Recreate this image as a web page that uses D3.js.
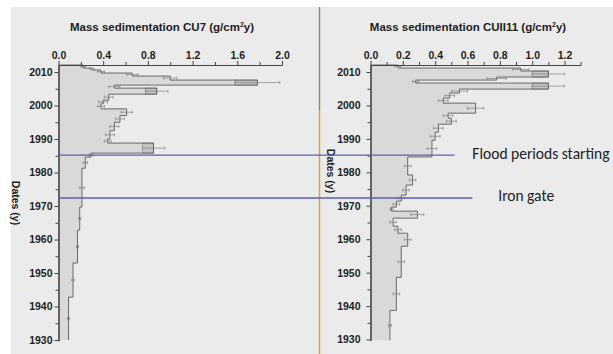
<!DOCTYPE html>
<html><head><meta charset="utf-8">
<script src="https://cdn.jsdelivr.net/npm/d3@7"></script>
<style>body{margin:0;background:#fff}svg{display:block}
.b{font-family:"Liberation Sans",Arial,sans-serif;font-weight:700;fill:#1e1e1e}
</style>
</head><body>
<script>
// ---- data ----
const yearsCU7 = [2012.1, 2011.2, 2010.6, 2009.7, 2008.8, 2007.6, 2006.1, 2005.2, 2003.4, 2001.6, 2000.5, 1999.0, 1997.0, 1995.0, 1992.5, 1990.0, 1988.8, 1985.8, 1984.6, 1981.3, 1969.7, 1962.8, 1953.0, 1942.8, 1930.0];
const massCU7 = [0.22, 0.30, 0.38, 0.66, 1.00, 1.78, 0.50, 0.88, 0.45, 0.40, 0.38, 0.61, 0.55, 0.50, 0.46, 0.44, 0.85, 0.29, 0.24, 0.21, 0.19, 0.17, 0.13, 0.09];
const errCU7 = [0.02, 0.02, 0.03, 0.05, 0.06, 0.20, 0.05, 0.10, 0.04, 0.04, 0.03, 0.05, 0.04, 0.04, 0.04, 0.03, 0.10, 0.02, 0.02, 0.02, 0.01, 0.01, 0.01, 0.01];

const yearsCUII11 = [2012.1, 2011.2, 2010.3, 2008.5, 2007.6, 2006.7, 2004.9, 2003.7, 2002.2, 2000.7, 1997.7, 1996.2, 1994.4, 1992.0, 1989.6, 1984.6, 1979.2, 1976.2, 1973.2, 1971.4, 1969.6, 1968.4, 1966.3, 1963.9, 1961.8, 1957.9, 1948.6, 1938.7, 1929.8];
const massCUII11 = [0.17, 0.93, 1.10, 0.78, 0.28, 1.10, 0.55, 0.49, 0.45, 0.65, 0.48, 0.50, 0.42, 0.40, 0.38, 0.23, 0.26, 0.22, 0.19, 0.16, 0.13, 0.29, 0.14, 0.17, 0.23, 0.19, 0.16, 0.12];
const errCUII11 = [0.02, 0.05, 0.10, 0.06, 0.02, 0.10, 0.05, 0.03, 0.03, 0.05, 0.03, 0.03, 0.03, 0.03, 0.03, 0.02, 0.02, 0.02, 0.02, 0.02, 0.01, 0.04, 0.02, 0.02, 0.02, 0.02, 0.02, 0.01];

const ticksCU7 = [0, 0.4, 0.8, 1.2, 1.6, 2.0];
const minorCU7 = [0.2, 0.6, 1.0, 1.4, 1.8];
const ticksCUII11 = [0, 0.2, 0.4, 0.6, 0.8, 1.0, 1.2];
const minorCUII11 = [0.1, 0.3, 0.5, 0.7, 0.9, 1.1, 1.3];
const yearTicks = [1930, 1940, 1950, 1960, 1970, 1980, 1990, 2000, 2010];
const yearMinor = [1935, 1945, 1955, 1965, 1975, 1985, 1995, 2005];

const events = [
  {label: "Flood periods starting", year: 1985.2, endVal: 0.52, textVal: 0.63},
  {label: "Iron gate", year: 1972.4, endVal: 0.63, textVal: 0.79}
];

// ---- drawing ----
const W = 613, H = 354;
const svg = d3.select("body").append("svg").attr("width", W).attr("height", H);
svg.append("rect").attr("width", W).attr("height", H).attr("fill", "#ffffff");
svg.append("rect").attr("x", 11).attr("y", 7).attr("width", W - 11).attr("height", H - 7).attr("fill", "#ebebeb");

const panels = [
  {title: "Mass sedimentation CU7 (g/cm", years: yearsCU7, vals: massCU7, errs: errCU7,
   xd: [0, 2.0], xr: [58.5, 282], yd: [1929.8, 2012.1], yr: [340.7, 65], ticks: ticksCU7, minor: minorCU7,
   titleX: 162, labX: 16, labY: 203, yPad: 2},
  {title: "Mass sedimentation CUII11 (g/cm", years: yearsCUII11, vals: massCUII11, errs: errCUII11,
   xd: [0, 1.3], xr: [370.5, 580.7], yd: [1929.8, 2012.1], yr: [340.2, 65], ticks: ticksCUII11, minor: minorCUII11,
   titleX: 468, labX: 331, labY: 171, yPad: 6}
];

panels.forEach(p => {
  const x = d3.scaleLinear().domain(p.xd).range(p.xr);
  const y = d3.scaleLinear().domain(p.yd).range(p.yr);
  p.x = x; p.y = y;
  const g = svg.append("g");

  const pts = [];
  p.vals.forEach((v, i) => {
    pts.push([v, p.years[i]]);
    pts.push([v, p.years[i + 1]]);
  });
  const area = d3.area().x0(x(0)).x1(d => x(d[0])).y(d => y(d[1]));
  g.append("path").datum(pts).attr("d", area).attr("fill", "#d4d4d4").attr("opacity", 0.8);
  p.vals.forEach((v, i) => {
    if (p.errs[i] >= 0.08) {
      g.append("rect").attr("x", x(v - p.errs[i])).attr("width", x(v) - x(v - p.errs[i]))
        .attr("y", y(p.years[i])).attr("height", y(p.years[i + 1]) - y(p.years[i]))
        .attr("fill", "#c4c4c4").attr("stroke", "#888").attr("stroke-width", 0.6);
    }
  });
  const line = d3.line().x(d => x(d[0])).y(d => y(d[1]));
  g.append("path").datum([[0, p.years[0]], ...pts]).attr("d", line)
    .attr("fill", "none").attr("stroke", "#5a5a5a").attr("stroke-width", 0.9);
  p.vals.forEach((v, i) => {
    const ym = y((p.years[i] + p.years[i + 1]) / 2);
    const e = p.errs[i];
    const eg = g.append("g").attr("stroke", "#808080").attr("stroke-width", 0.7);
    eg.append("line").attr("x1", x(v - e)).attr("x2", x(v + e)).attr("y1", ym).attr("y2", ym);
    [v - e, v + e].forEach(xx => eg.append("line").attr("x1", x(xx)).attr("x2", x(xx)).attr("y1", ym - 1.5).attr("y2", ym + 1.5));
  });

  g.append("g").attr("transform", `translate(0,${p.yr[1]})`)
    .call(d3.axisTop(x).tickValues(p.ticks).tickFormat(d3.format(".1f")).tickSize(4).tickPadding(2).tickSizeOuter(0));
  g.append("g").attr("transform", `translate(0,${p.yr[1]})`)
    .call(d3.axisTop(x).tickValues(p.minor).tickFormat("").tickSize(3).tickSizeOuter(0));
  g.append("g").attr("transform", `translate(${p.xr[0]},0)`)
    .call(d3.axisLeft(y).tickValues(yearTicks).tickFormat(d3.format("d")).tickSize(4).tickPadding(p.yPad).tickSizeOuter(0));
  g.append("g").attr("transform", `translate(${p.xr[0]},0)`)
    .call(d3.axisLeft(y).tickValues(yearMinor).tickFormat("").tickSize(3).tickSizeOuter(0));
  g.selectAll(".domain").attr("stroke", "#444").attr("stroke-width", 1.1);
  g.selectAll(".tick line").attr("stroke", "#444");
  g.selectAll(".tick text").attr("class", "b").style("font-size", "10.5px");

  const t = svg.append("text").attr("class", "b").attr("x", p.titleX).attr("y", 31).attr("text-anchor", "middle")
    .style("font-size", "11.5px");
  t.append("tspan").text(p.title);
  t.append("tspan").attr("dy", -4.5).style("font-size", "7px").text("2");
  t.append("tspan").attr("dy", 4.5).text("y)");

  svg.append("text").attr("class", "b").attr("transform", `translate(${p.labX},${p.labY}) rotate(90)`)
    .attr("text-anchor", "middle").attr("dy", "0.35em")
    .style("font-size", "10.5px").text("Dates (y)");
});

svg.append("line").attr("x1", 319.5).attr("x2", 319.5).attr("y1", 7).attr("y2", 110).attr("stroke", "#8a8a80").attr("stroke-width", 1.5);
svg.append("line").attr("x1", 319.5).attr("x2", 319.5).attr("y1", 110).attr("y2", H).attr("stroke", "#b9b53c").attr("stroke-width", 1.5);

const pL = panels[0], pR = panels[1];
events.forEach(ev => {
  const yy = pL.y(ev.year);
  svg.append("line").attr("x1", pL.x(0)).attr("x2", pR.x(ev.endVal)).attr("y1", yy).attr("y2", yy)
    .attr("stroke", "#5b5fb2").attr("stroke-width", 1.3);
  svg.append("text").attr("x", pR.x(ev.textVal)).attr("y", yy - 2).attr("dy", "0.35em")
    .style("font-family", "Carlito, 'Open Sans', 'Liberation Sans', sans-serif").style("font-size", "15.5px")
    .attr("fill", "#222").text(ev.label);
});
</script>
</body></html>
